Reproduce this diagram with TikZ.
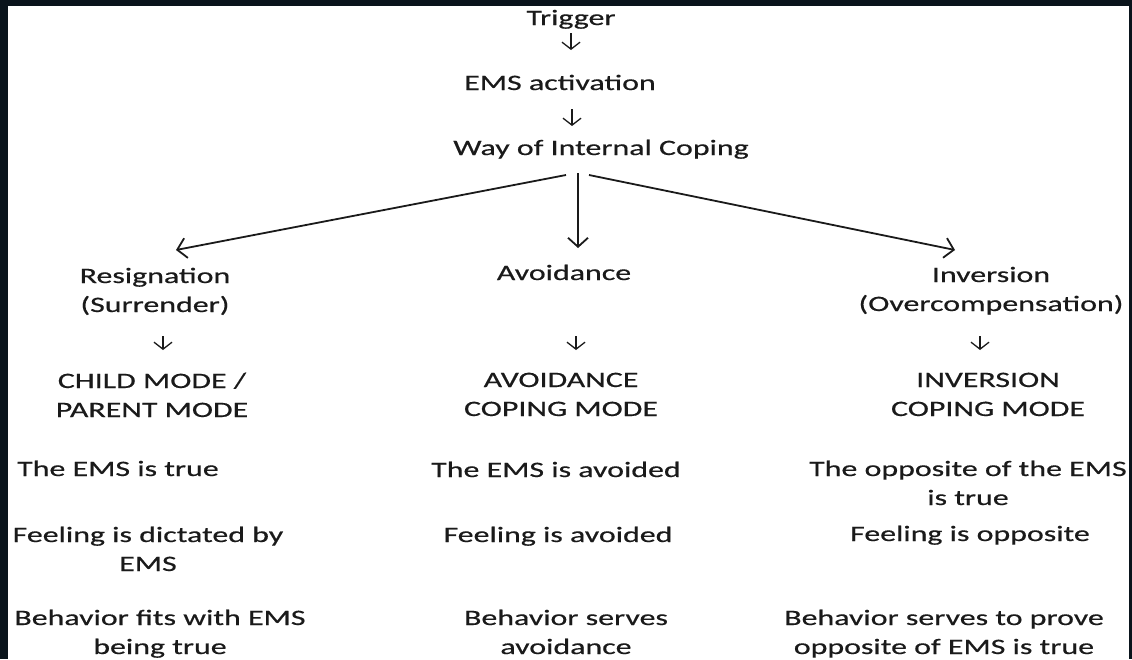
\documentclass[tikz,border=0pt]{standalone}
\usepackage{fontspec}
\setmainfont{Carlito}[FakeStretch=1.45,FakeBold=0.5]
\usetikzlibrary{arrows.meta}
\definecolor{frame}{RGB}{10,20,28}
\definecolor{ink}{RGB}{26,26,26}

\begin{document}
\begin{tikzpicture}[x=1pt,y=-1pt,
  % anchor=base sits on the baseline of the last line of a node
  lbl/.style={anchor=base, inner sep=0pt, align=center, text=ink,
              font=\fontsize{22}{29}\selectfont},
  bigarrow/.style={line width=1.8pt, draw=ink,
                   -{Straight Barb[length=9pt,width=20pt,line width=1.8pt]}},
  tickarrow/.style={line width=1.3pt, draw=ink,
                    -{Straight Barb[length=7pt,width=18pt,line width=1.3pt]}}]

% dark frame around the white sheet
\fill[frame] (0,0) rectangle (1132,659);
\fill[white] (8,6) rectangle (1129,659);
\useasboundingbox (0,0) rectangle (1132,659);

% top chain
\node[lbl] (trig) at (571,25) {Trigger};
\node[lbl] (ems)  at (560,90) {EMS activation};
\node[lbl] (way)  at (601,155) {Way of Internal Coping};

% three coping styles
\node[lbl] (res) at (155,312) {Resignation\\(Surrender)};
\node[lbl] (avo) at (564,280) {Avoidance};
\node[lbl] (inv) at (991,311) {Inversion\\(Overcompensation)};

% resulting modes
\node[lbl] (cpm) at (152,417) {CHILD MODE /\\PARENT MODE};
\node[lbl] (acm) at (561,416) {AVOIDANCE\\COPING MODE};
\node[lbl] (icm) at (988,416) {INVERSION\\COPING MODE};

% descriptions
\node[lbl] (t1) at (118,476) {The EMS is true};
\node[lbl] (t2) at (556,477) {The EMS is avoided};
\node[lbl] (t3) at (968,505) {The opposite of the EMS\\is true};
\node[lbl] (f1) at (148,571) {Feeling is dictated by\\EMS};
\node[lbl] (f2) at (558,542) {Feeling is avoided};
\node[lbl] (f3) at (970,541) {Feeling is opposite};
\node[lbl] (b1) at (160,654) {Behavior fits with EMS\\being true};
\node[lbl] (b2) at (566,654) {Behavior serves\\avoidance};
\node[lbl] (b3) at (944,654) {Behavior serves to prove\\opposite of EMS is true};

% small down arrows between lines
\coordinate (a1s) at (571,33);  \coordinate (a1e) at (571,50);
\coordinate (a2s) at (572,109); \coordinate (a2e) at (572,126);
\coordinate (a3s) at (163,336); \coordinate (a3e) at (163,350);
\coordinate (a4s) at (576,336); \coordinate (a4e) at (576,350);
\coordinate (a5s) at (980,336); \coordinate (a5e) at (980,350);
\foreach \s/\e in {a1s/a1e,a2s/a2e,a3s/a3e,a4s/a4e,a5s/a5e}
  \draw[tickarrow] (\s) -- (\e);

% fork from the internal coping node
\coordinate (fl) at (566,175); \coordinate (tl) at (176,250);
\coordinate (fm) at (578,173); \coordinate (tm) at (578,248);
\coordinate (fr) at (589,175); \coordinate (tr) at (955,250);
\draw[bigarrow] (fl) -- (tl);
\draw[bigarrow] (fm) -- (tm);
\draw[bigarrow] (fr) -- (tr);
\end{tikzpicture}
\end{document}
